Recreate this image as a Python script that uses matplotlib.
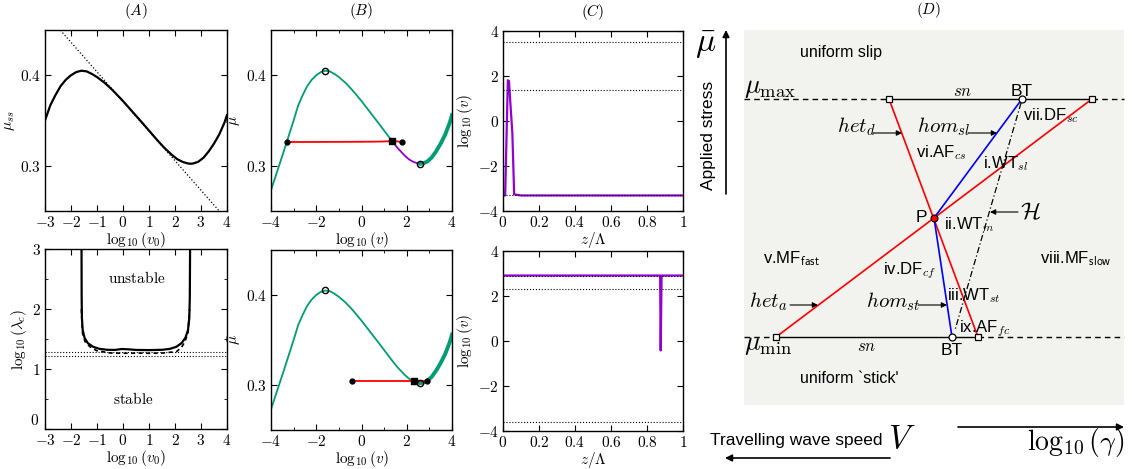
import matplotlib
matplotlib.use('Agg')
import matplotlib.pyplot as plt
from matplotlib.ticker import FuncFormatter, MultipleLocator
from matplotlib.patches import Rectangle

plt.rcParams['mathtext.fontset'] = 'cm'
plt.rcParams['font.family'] = ['Liberation Sans', 'DejaVu Sans']

# ---------------- data ----------------
# steady-state friction curve
log_v = [-4.0, -3.5, -3.0, -2.8, -2.6, -2.4, -2.2, -2.0, -1.8, -1.6, -1.4, -1.2,
         -1.0, -0.7, -0.4, 0.0, 0.4, 0.8, 1.2, 1.34, 1.6, 1.9, 2.1, 2.3, 2.5, 2.6,
         2.7, 2.9, 3.1, 3.3, 3.5, 3.7, 3.9, 4.0]
mu_ss = [0.273, 0.311, 0.350, 0.3665, 0.378, 0.388, 0.395, 0.400, 0.4035, 0.405,
         0.4043, 0.4015, 0.398, 0.3915, 0.3835, 0.3715, 0.3585, 0.3455, 0.3322,
         0.3276, 0.3195, 0.3115, 0.307, 0.3042, 0.3025, 0.3022, 0.3025, 0.3045,
         0.309, 0.316, 0.3245, 0.3345, 0.3475, 0.356]
tangent_x = [-3.0, 4.0]
tangent_mu = [0.4691, 0.2402]

# critical wavelength
lam_x = [-1.595, -1.59, -1.58, -1.55, -1.48, -1.35, -1.15, -0.9, -0.6, -0.3, -0.05,
         0.2, 0.5, 1.0, 1.5, 1.8, 2.05, 2.25, 2.4, 2.5, 2.55, 2.57, 2.58]
lam_solid = [3.0, 2.2, 1.85, 1.65, 1.52, 1.43, 1.37, 1.335, 1.32, 1.318, 1.333,
             1.328, 1.318, 1.315, 1.32, 1.335, 1.37, 1.43, 1.52, 1.65, 1.85, 2.2, 3.0]
lam_dash_x = [-1.60, -1.56, -1.46, -1.27, -1.01, -0.5, 0.0, 0.5, 1.0, 1.5, 2.06,
              2.25, 2.38, 2.5, 2.56]
lam_dash = [2.0, 1.6, 1.455, 1.37, 1.305, 1.267, 1.262, 1.265, 1.262, 1.265, 1.29,
            1.36, 1.455, 1.6, 2.0]
lam_dotted = [1.288, 1.222]

# panel B: travelling-wave states
peak_pt = (-1.6, 0.405)
min_pt = (2.6, 0.3022)
bt_red_x = [-3.29, -2.0, 0.0, 0.8, 1.15, 1.34, 1.55, 1.81]
bt_red_mu = [0.3262, 0.3263, 0.3265, 0.3267, 0.3270, 0.3273, 0.3270, 0.3262]
bt_square = (1.34, 0.3273)
bt_split = [19, 25]      # index of square, index of minimum
bb_red_x = [-0.40, 2.30, 2.90]
bb_red_mu = [0.3044, 0.3044, 0.3044]
bb_square = (2.30, 0.3044)
bb_split = [23, 25]

# panel C: velocity profiles
ct_z = [0.0, 0.012, 0.027, 0.033, 0.052, 0.062, 0.1, 1.0]
ct_logv = [-3.31, -3.31, 1.81, 1.78, -0.55, -3.26, -3.31, -3.31]
ct_dotted = [3.52, 1.40, -3.31]
cb_z = [0.0, 0.873, 0.876, 0.881, 1.0]
cb_logv = [2.91, 2.91, -0.42, 2.91, 2.91]
cb_dotted = [2.91, 2.32, -3.62]

# panel D: schematic (pixel units)
box_x = [744, 1124]
box_y = [30, 405]
mu_max_y = 99
mu_min_y = 337
top_x = [744, 889, 1022, 1092, 1124]
bot_x = [744, 776, 952, 978, 1124]
P_xy = (934, 218)
H_x = [1021, 955]
H_y = [103, 330]

GREEN = '#009e73'
PURPLE = '#9400d3'

W, H = 1134, 469
fig = plt.figure(figsize=(W / 100, H / 100), dpi=100)


def ax_px(x0, y0, x1, y1):
    return fig.add_axes([x0 / W, 1 - y1 / H, (x1 - x0) / W, (y1 - y0) / H])


fmt = FuncFormatter(lambda v, p: '$%s$' % ('%g' % round(v, 6)))
fmt_nozero = FuncFormatter(lambda v, p: '' if abs(v) < 1e-9 else '$%g$' % round(v, 6))


def style(ax):
    ax.tick_params(which='both', direction='in', top=True, right=True,
                   labelsize=11, pad=3)
    ax.tick_params(which='major', length=4, width=0.8)
    ax.tick_params(which='minor', length=2.5, width=0.6)
    ax.xaxis.set_major_formatter(fmt)
    ax.yaxis.set_major_formatter(fmt)
    for s in ax.spines.values():
        s.set_linewidth(1.0)


# ---------- A top ----------
a1 = ax_px(45, 30, 227, 211)
a1.plot(log_v, mu_ss, color='k', lw=1.6)
a1.plot(tangent_x, tangent_mu, color='k', lw=0.9, ls=':')
a1.set_xlim(-3, 4)
a1.set_ylim(0.25, 0.45)
a1.xaxis.set_major_locator(MultipleLocator(1))
a1.yaxis.set_major_locator(MultipleLocator(0.1))
style(a1)
a1.set_xlabel(r'$\log_{10}(v_0)$', fontsize=11, labelpad=0)
a1.set_ylabel(r'$\mu_{ss}$', fontsize=11, labelpad=2)
a1.set_title(r'$(A)$', fontsize=11, pad=11)

# ---------- A bottom ----------
a2 = ax_px(45, 249, 227, 429)
a2.plot(lam_dash_x, lam_dash, color='k', lw=1.2, ls=(0, (2.5, 2)))
a2.plot(lam_x, lam_solid, color='k', lw=1.6)
for yv in lam_dotted:
    a2.axhline(yv, color='k', lw=0.8, ls=':')
a2.text(0.53, 2.51, r'$\mathrm{unstable}$', fontsize=11, ha='center', va='center')
a2.text(0.40, 0.50, r'$\mathrm{stable}$', fontsize=11, ha='center', va='center')
a2.set_xlim(-3, 4)
a2.set_ylim(0, 3)
a2.xaxis.set_major_locator(MultipleLocator(1))
a2.yaxis.set_major_locator(MultipleLocator(1))
a2.yaxis.set_minor_locator(MultipleLocator(0.5))
style(a2)
a2.yaxis.set_major_formatter(fmt_nozero)
# the "0" of the y axis sits slightly raised, clear of the x tick labels
a2.annotate(r'$0$', xy=(0, 0), xycoords='axes fraction', xytext=(-4, 1),
            textcoords='offset points', ha='right', va='bottom', fontsize=11)
a2.set_xlabel(r'$\log_{10}(v_0)$', fontsize=11, labelpad=0)
a2.set_ylabel(r'$\log_{10}(\lambda_c)$', fontsize=11, labelpad=2)


# ---------- B ----------
def panel_b(ax, split, red_x, red_mu, square):
    i0, i1 = split
    ax.plot(log_v[:i0 + 1], mu_ss[:i0 + 1], color=GREEN, lw=1.3)
    ax.plot(log_v[i0:i1 + 1], mu_ss[i0:i1 + 1], color=PURPLE, lw=1.3)
    ax.plot(log_v[i1:], mu_ss[i1:], color=GREEN, lw=2.8)
    ax.plot(red_x, red_mu, color='red', lw=1.3, zorder=3)
    ax.plot([red_x[0], red_x[-1]], [red_mu[0], red_mu[-1]], 'o', color='k',
            ms=3.5, zorder=4)
    ax.plot([square[0]], [square[1]], 's', color='k', ms=5, zorder=4)
    ax.plot([peak_pt[0], min_pt[0]], [peak_pt[1], min_pt[1]], 'o', mfc='none',
            mec='k', mew=1.0, ms=4.5, zorder=5)
    ax.set_xlim(-4, 4)
    ax.set_ylim(0.25, 0.45)
    ax.xaxis.set_major_locator(MultipleLocator(2))
    ax.xaxis.set_minor_locator(MultipleLocator(1))
    ax.yaxis.set_major_locator(MultipleLocator(0.1))
    style(ax)
    ax.set_xlabel(r'$\log_{10}(v)$', fontsize=11, labelpad=0)
    ax.set_ylabel(r'$\bar{\mu}$', fontsize=11, labelpad=2)


b1 = ax_px(271, 30, 452, 211)
panel_b(b1, bt_split, bt_red_x, bt_red_mu, bt_square)
b1.set_title(r'$(B)$', fontsize=11, pad=11)
b2 = ax_px(271, 250, 452, 430)
panel_b(b2, bb_split, bb_red_x, bb_red_mu, bb_square)


# ---------- C ----------
def panel_c(ax, z, lv, dotted):
    ax.plot(z, lv, color=PURPLE, lw=1.6)
    for yv in dotted:
        ax.axhline(yv, color='k', lw=0.8, ls=':')
    ax.set_xlim(0, 1)
    ax.set_ylim(-4, 4)
    ax.xaxis.set_major_locator(MultipleLocator(0.2))
    ax.yaxis.set_major_locator(MultipleLocator(2))
    style(ax)
    ax.set_xlabel(r'$z/\Lambda$', fontsize=11, labelpad=0)
    ax.set_ylabel(r'$\log_{10}(v)$', fontsize=11, labelpad=2)


c1 = ax_px(503, 31, 683, 211)
panel_c(c1, ct_z, ct_logv, ct_dotted)
c1.set_title(r'$(C)$', fontsize=11, pad=11)
c2 = ax_px(503, 251, 683, 431)
panel_c(c2, cb_z, cb_logv, cb_dotted)

# ---------- D ----------
d = ax_px(690, 0, 1134, 469)
d.set_xlim(690, 1134)
d.set_ylim(469, 0)
d.axis('off')
d.add_patch(Rectangle((box_x[0], box_y[0]), box_x[1] - box_x[0], box_y[1] - box_y[0],
                      facecolor='#f2f2ee', edgecolor='none', zorder=0))
dash = (0, (4, 3))
# mu_max line
d.plot(top_x[0:2], [mu_max_y] * 2, color='k', lw=1, ls=dash, zorder=1)
d.plot(top_x[1:4], [mu_max_y] * 3, color='k', lw=1, zorder=1)
d.plot(top_x[3:5], [mu_max_y] * 2, color='k', lw=1, ls=dash, zorder=1)
# mu_min line
d.plot(bot_x[0:2], [mu_min_y] * 2, color='k', lw=1, ls=dash, zorder=1)
d.plot(bot_x[1:4], [mu_min_y] * 3, color='k', lw=1, zorder=1)
d.plot(bot_x[3:5], [mu_min_y] * 2, color='k', lw=1, ls=dash, zorder=1)
# het lines (red)
d.plot([top_x[1], bot_x[3]], [mu_max_y, mu_min_y], color='red', lw=1.2, zorder=2)
d.plot([bot_x[1], top_x[3]], [mu_min_y, mu_max_y], color='red', lw=1.2, zorder=2)
# hom lines (blue)
d.plot([top_x[2], P_xy[0], bot_x[2]], [mu_max_y, P_xy[1], mu_min_y],
       color='blue', lw=1.2, zorder=2)
# H dash-dot
d.plot(H_x, H_y, color='k', lw=0.9, ls=(0, (5, 2, 1, 2)), zorder=2)
# markers
d.plot([top_x[1], top_x[3]], [mu_max_y] * 2, 's', mfc='white', mec='k', mew=0.9,
       ms=5, zorder=4)
d.plot([bot_x[1], bot_x[3]], [mu_min_y] * 2, 's', mfc='white', mec='k', mew=0.9,
       ms=5, zorder=4)
d.plot([top_x[2], bot_x[2]], [mu_max_y, mu_min_y], 'o', mfc='white', mec='k',
       mew=0.9, ms=5, zorder=4)
d.plot([P_xy[0]], [P_xy[1]], 'o', mfc='red', mec='k', mew=0.8, ms=5, zorder=5)


def arrow(x0, y0, x1, y1, lw=0.8, ms=8):
    d.annotate('', xy=(x1, y1), xytext=(x0, y0),
               arrowprops=dict(arrowstyle='-|>', color='k', lw=lw,
                               mutation_scale=ms, shrinkA=0, shrinkB=0),
               annotation_clip=False)


arrow(873, 133, 902, 133)
arrow(968, 133, 997, 133)
arrow(1018, 212, 990, 212)
arrow(790, 305, 818, 305)
arrow(918, 305, 947, 305)

t = dict(fontsize=12, ha='left', va='baseline')
d.text(800, 57, 'uniform slip', fontsize=11.5, ha='left', va='baseline')
d.text(744, 93, r'$\mu_{\mathrm{max}}$', fontsize=19, ha='left', va='baseline')
d.text(963, 96, r'$sn$', fontsize=12, ha='center', va='baseline')
d.text(1022, 96.5, 'BT', fontsize=12.5, ha='center', va='baseline')
d.text(837, 132, r'$het_d$', fontsize=15, ha='left', va='baseline')
d.text(917, 132, r'$hom_{sl}$', fontsize=15, ha='left', va='baseline')
d.text(916, 157, r'vi.AF$_{cs}$', **t)
d.text(1023, 120, r'vii.DF$_{sc}$', **t)
d.text(983, 168, r'i.WT$_{sl}$', **t)
d.text(1020, 213, r'$\mathcal{H}$', fontsize=17, ha='left', va='center')
d.text(927, 222, 'P', fontsize=12.5, ha='right', va='baseline')
d.text(944, 229, r'ii.WT$_{m}$', **t)
d.text(763, 263, r'v.MF$_{\mathsf{fast}}$', **t)
d.text(1040, 263, r'viii.MF$_{\mathsf{slow}}$', **t)
d.text(883, 274, r'iv.DF$_{cf}$', **t)
d.text(947, 300, r'iii.WT$_{st}$', **t)
d.text(749, 307, r'$het_a$', fontsize=15, ha='left', va='baseline')
d.text(866, 307, r'$hom_{st}$', fontsize=15, ha='left', va='baseline')
d.text(959, 332, r'ix.AF$_{fc}$', **t)
d.text(744, 350, r'$\mu_{\mathrm{min}}$', fontsize=19, ha='left', va='baseline')
d.text(867, 351, r'$sn$', fontsize=12, ha='center', va='baseline')
d.text(952, 355, 'BT', fontsize=12.5, ha='center', va='baseline')
d.text(800, 383, "uniform `stick'", fontsize=11.5, ha='left', va='baseline')
d.text(929, 10, r'$(D)$', fontsize=11, ha='center', va='center')

# outside axes annotations
d.text(706, 45, r'$\bar{\mu}$', fontsize=24, ha='center', va='center')
arrow(726, 194, 726, 30, lw=1.2, ms=10)
d.text(708, 135, 'Applied stress', fontsize=12.5, rotation=90, ha='center',
       va='center')
d.text(710, 445, 'Travelling wave speed', fontsize=12.5, ha='left', va='baseline')
d.text(888, 448, r'$V$', fontsize=24, ha='left', va='baseline')
arrow(890, 458, 725, 458, lw=1.2, ms=10)
arrow(958, 427, 1124, 427, lw=1.2, ms=10)
d.text(1124, 450, r'$\log_{10}(\gamma)$', fontsize=20, ha='right', va='baseline')

fig.savefig('out.png', dpi=100)
